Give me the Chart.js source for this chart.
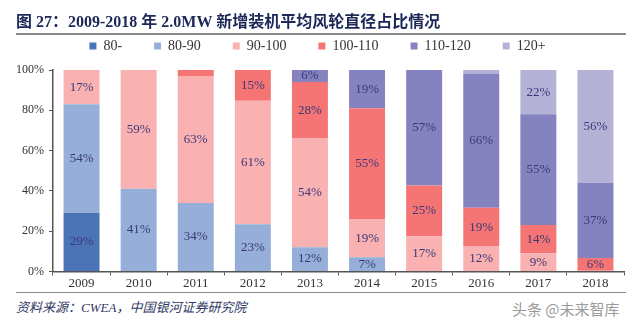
<!DOCTYPE html>
<html>
<head>
<meta charset="utf-8">
<script src="https://cdn.jsdelivr.net/npm/chart.js@4/dist/chart.umd.min.js"></script>
<style>
  body { margin: 0; background: #fff; width: 640px; height: 332px; overflow: hidden; position: relative; }
  #title { position: absolute; left: 16px; top: 8px; font: bold 16px "Liberation Serif", "Noto Sans CJK SC", serif; color: #1c2858; white-space: nowrap; }
  #rule1 { position: absolute; left: 16px; top: 33px; width: 610px; height: 2px; background: #8a8a8a; }
  #rule2 { position: absolute; left: 16px; top: 292px; width: 610px; height: 1px; background: #8a8a8a; }
  #source { position: absolute; left: 16px; top: 297px; font: italic 13px "Liberation Serif", "Noto Sans CJK SC", serif; color: #2f3a66; white-space: nowrap; }
  #mark { position: absolute; left: 512px; top: 298px; font: 15px "Noto Sans CJK SC", sans-serif; color: #9a9a9a; white-space: nowrap; }
  #chart { position: absolute; left: 0; top: 7px; }
</style>
</head>
<body>
<canvas id="chart" width="640" height="284"></canvas>
<div id="title">图 27：2009-2018 年 2.0MW 新增装机平均风轮直径占比情况</div>
<div id="rule1"></div>
<div id="rule2"></div>
<div id="source">资料来源：CWEA，中国银河证券研究院</div>
<div id="mark">头条 @未来智库</div>
<script>
// categories and series (percent of new 2.0MW installs by rotor diameter)
const years = ['2009', '2010', '2011', '2012', '2013', '2014', '2015', '2016', '2017', '2018'];
const d80minus = [29, 0, 0, 0, 0, 0, 0, 0, 0, 0];
const d80to90 = [54, 41, 34, 23.4, 12, 7, 0, 0, 0, 0];
const d90to100 = [17, 59, 63, 61.3, 54, 19, 17.4, 12.4, 9, 0.3];
const d100to110 = [0, 0, 3, 15.3, 28, 55, 25.3, 19.2, 14, 6.4];
const d110to120 = [0, 0, 0, 0, 6, 19, 57.3, 66.4, 55, 37.3];
const d120plus = [0, 0, 0, 0, 0, 0, 0, 2, 22, 56];
const yTicks = [0, 20, 40, 60, 80, 100];

const serif = '"Liberation Serif", "Times New Roman", serif';

// value labels in the middle of each segment
const barLabels = {
  id: 'barLabels',
  afterDatasetsDraw(chart) {
    const { ctx } = chart;
    ctx.save();
    ctx.font = '13px ' + serif;
    ctx.fillStyle = '#3a3878';
    ctx.textAlign = 'center';
    ctx.textBaseline = 'middle';
    chart.data.datasets.forEach((ds, i) => {
      chart.getDatasetMeta(i).data.forEach((bar, j) => {
        const v = ds.data[j];
        if (v < 5) return;
        ctx.fillText(Math.round(v) + '%', bar.x, (bar.y + bar.base) / 2);
      });
    });
    ctx.restore();
  }
};

// a bit more room under the legend
const legendGap = {
  id: 'legendGap',
  beforeInit(chart) {
    const fit = chart.legend.fit;
    chart.legend.fit = function () {
      fit.bind(chart.legend)();
      this.height += 7;
    };
  }
};

new Chart(document.getElementById('chart'), {
  type: 'bar',
  data: {
    labels: years,
    datasets: [
      { label: '80-', data: d80minus, backgroundColor: '#4b74b6' },
      { label: '80-90', data: d80to90, backgroundColor: '#95afd8' },
      { label: '90-100', data: d90to100, backgroundColor: '#f9b1b1' },
      { label: '100-110', data: d100to110, backgroundColor: '#f57575' },
      { label: '110-120', data: d110to120, backgroundColor: '#8582c0' },
      { label: '120+', data: d120plus, backgroundColor: '#b5b2d8' }
    ]
  },
  options: {
    responsive: false,
    animation: false,
    maintainAspectRatio: false,
    layout: { padding: { left: 11, right: 16, top: 0, bottom: 0 } },
    datasets: { bar: { barPercentage: 0.63, categoryPercentage: 1 } },
    plugins: {
      tooltip: { enabled: false },
      legend: {
        position: 'top',
        labels: {
          boxWidth: 7, boxHeight: 7, padding: 32,
          color: '#333', font: { family: serif, size: 14 }
        }
      }
    },
    scales: {
      x: {
        stacked: true,
        grid: { drawOnChartArea: false, tickLength: 4, color: '#555' },
        border: { color: '#555', width: 1.5 },
        ticks: { color: '#333', font: { family: serif, size: 13 }, padding: 0 }
      },
      y: {
        stacked: true,
        min: 0, max: 100,
        afterBuildTicks(axis) { axis.ticks = yTicks.map(v => ({ value: v })); },
        grid: { drawOnChartArea: false, tickLength: 4, color: '#555' },
        border: { color: '#555', width: 1.5 },
        ticks: { color: '#333', font: { family: serif, size: 12 }, padding: 5, callback: v => v + '%' }
      }
    }
  },
  plugins: [barLabels, legendGap]
});
</script>
</body>
</html>
